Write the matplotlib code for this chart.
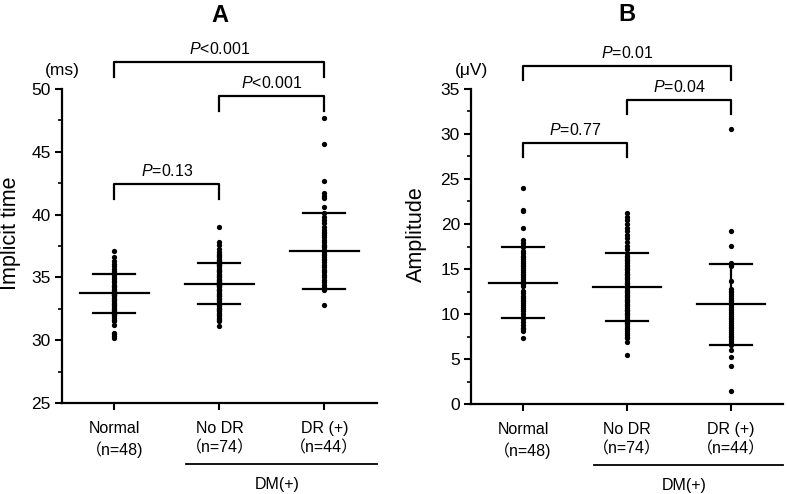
import numpy as np
import matplotlib
matplotlib.use("Agg")
import matplotlib.pyplot as plt
import matplotlib.transforms as mtrans

plt.rcParams['font.family'] = ['Liberation Sans', 'Noto Sans CJK JP', 'DejaVu Sans']
plt.rcParams['mathtext.fontset'] = 'custom'
plt.rcParams['mathtext.rm'] = 'Liberation Sans'
plt.rcParams['mathtext.it'] = 'Liberation Sans:italic'

groups = ["Normal\n（n=48)", "No DR\n（n=74）", "DR (+)\n（n=44）"]

# implicit time (ms)
it_normal = [37.1, 36.6, 36.3, 36.1, 35.9, 35.7, 35.5, 35.4, 35.2, 35.0,
             34.9, 34.7, 34.6, 34.4, 34.3, 34.2, 34.0, 33.9, 33.8, 33.7,
             33.6, 33.5, 33.4, 33.3, 33.2, 33.1, 33.0, 32.9, 32.8, 32.7,
             32.6, 32.5, 32.4, 32.3, 32.2, 32.1, 32.0, 31.9, 31.8, 31.6,
             31.5, 31.2, 30.6, 30.5, 30.3, 30.2, 33.6, 34.1]
it_nodr = [39.0, 37.8, 37.6, 37.3, 37.0, 36.9, 36.8, 36.7, 36.6, 36.5,
           36.4, 36.3, 36.2, 36.1, 36.0, 35.9, 35.8, 35.7, 35.6, 35.5,
           35.4, 35.3, 35.2, 35.1, 35.0, 34.9, 34.8, 34.8, 34.7, 34.6,
           34.6, 34.5, 34.5, 34.4, 34.4, 34.3, 34.3, 34.2, 34.1, 34.0,
           33.9, 33.8, 33.7, 33.6, 33.5, 33.4, 33.3, 33.2, 33.1, 33.0,
           32.9, 32.8, 32.7, 32.6, 32.5, 32.4, 32.3, 32.2, 32.1, 32.0,
           31.9, 31.8, 31.7, 31.6, 31.5, 35.0, 34.0, 33.5, 35.5, 34.5,
           33.0, 36.0, 32.5, 31.1]
it_dr = [47.7, 45.6, 42.7, 41.7, 41.5, 41.3, 40.6, 40.1, 39.6, 39.3,
         39.0, 38.8, 38.6, 38.4, 38.2, 38.0, 37.8, 37.6, 37.4, 37.2,
         37.0, 36.8, 36.6, 36.4, 36.2, 36.0, 35.8, 35.6, 35.4, 35.2,
         35.0, 34.8, 34.6, 34.4, 34.2, 34.1, 34.0, 37.5, 36.5, 35.5,
         38.5, 39.8, 36.9, 32.8]
it_mean = [33.75, 34.5, 37.1]
it_sd = [1.55, 1.65, 3.05]

# amplitude (uV)
amp_normal = [24.0, 21.6, 21.4, 19.6, 18.2, 17.9, 17.6, 17.4, 17.0, 16.8,
              16.5, 16.3, 16.1, 15.9, 15.7, 15.5, 15.3, 15.1, 14.9, 14.7,
              14.5, 14.3, 14.1, 13.9, 13.7, 13.5, 13.3, 13.1, 12.6, 12.3,
              12.0, 11.8, 11.6, 11.4, 11.2, 11.0, 10.8, 10.6, 10.3, 10.0,
              9.7, 9.4, 9.1, 8.8, 8.5, 8.3, 8.1, 7.3]
amp_nodr = [21.2, 20.8, 20.4, 20.0, 19.6, 19.2, 18.8, 18.4, 18.0, 17.6,
            17.2, 16.8, 16.5, 16.3, 16.1, 15.9, 15.7, 15.5, 15.3, 15.1,
            14.9, 14.7, 14.5, 14.3, 14.1, 13.9, 13.7, 13.5, 13.3, 13.1,
            12.9, 12.7, 12.5, 12.3, 12.1, 11.9, 11.7, 11.5, 11.3, 11.1,
            10.9, 10.7, 10.5, 10.3, 10.1, 9.9, 9.7, 9.5, 9.3, 9.1,
            8.9, 8.7, 8.5, 8.3, 8.1, 7.9, 7.7, 7.5, 7.3, 6.9,
            5.5, 13.0, 12.0, 14.0, 11.0, 15.0, 10.0, 16.0, 9.0, 12.6,
            13.4, 11.6, 14.4, 10.4]
amp_dr = [30.6, 19.2, 17.6, 15.7, 15.5, 15.3, 13.7, 12.6, 12.4, 12.2,
          12.0, 11.8, 11.6, 11.4, 11.2, 11.0, 10.8, 10.6, 10.4, 10.2,
          10.0, 9.8, 9.6, 9.4, 9.2, 9.0, 8.8, 8.6, 8.4, 8.2,
          8.0, 7.8, 7.6, 7.4, 7.2, 7.0, 6.8, 6.6, 6.0, 5.2,
          4.2, 1.5, 11.1, 12.8]
amp_mean = [13.5, 13.0, 11.1]
amp_sd = [3.9, 3.8, 4.5]

# brackets: (left group, right group, bar height, label)
it_brackets = [(0, 2, 52.15, "$\\mathit{P}$<0.001"),
               (1, 2, 49.45, "$\\mathit{P}$<0.001"),
               (0, 1, 42.45, "$\\mathit{P}$=0.13")]
amp_brackets = [(0, 2, 37.55, "$\\mathit{P}$=0.01"),
                (1, 2, 33.8, "$\\mathit{P}$=0.04"),
                (0, 1, 29.0, "$\\mathit{P}$=0.77")]


def draw_panel(ax, data, means, sds, brackets, ylim, step, leg, ylabel, unit, title, ylab_x):
    for i, vals in enumerate(data):
        ax.plot(np.full(len(vals), i), vals, 'o', color='black', ms=3.8, mec='none', clip_on=False)
        ax.plot([i - 0.33, i + 0.33], [means[i]] * 2, color='black', lw=1.6)
        for s in (-1, 1):
            ax.plot([i - 0.2, i + 0.2], [means[i] + s * sds[i]] * 2, color='black', lw=1.6)
        ax.plot([i, i], [means[i] - sds[i], means[i] + sds[i]], color='black', lw=1.6)
    for a, b, h, lab in brackets:
        ax.plot([a, a, b, b], [h - leg, h, h, h - leg], color='black', lw=1.6, clip_on=False)
        ax.text((a + b) / 2, h + leg * 0.35, lab, ha='center', va='bottom', fontsize=11.5)
    ax.set_xlim(-0.5, 2.5)
    ax.set_ylim(*ylim)
    ax.set_yticks(np.arange(ylim[0], ylim[1] + 0.1, step))
    ax.set_yticks(np.arange(ylim[0] + step / 2, ylim[1], step), minor=True)
    ax.set_xticks([0, 1, 2], labels=groups, linespacing=1.35)
    ax.tick_params(axis='both', which='major', labelsize=12.5, width=1.5, length=5, direction='out')
    ax.tick_params(axis='x', pad=8, labelsize=11.5)
    ax.tick_params(axis='y', which='minor', width=1.2, length=3)
    ax.tick_params(axis='y', pad=3)
    for sp in ('top', 'right'):
        ax.spines[sp].set_visible(False)
    for sp in ('left', 'bottom'):
        ax.spines[sp].set_linewidth(1.6)
    ax.set_ylabel(ylabel, fontsize=15.5)
    ax.yaxis.set_label_coords(ylab_x, 0.54)
    ax.text(0.0, 1.06, unit, transform=ax.transAxes, ha='center', va='center', fontsize=12.5)
    ax.text(0.5, 1.235, title, transform=ax.transAxes, ha='center', va='center',
            fontsize=17, fontweight='bold')
    tr = mtrans.blended_transform_factory(ax.transData, ax.transAxes)
    ax.plot([0.68, 2.5], [-0.194, -0.194], color='black', lw=1.3, transform=tr, clip_on=False)
    ax.text(1.55, -0.258, "DM(+)", transform=tr, ha='center', va='center', fontsize=11.5)


fig = plt.figure(figsize=(7.87, 4.94), dpi=100)
ax1 = fig.add_axes([0.0788, 0.184, 0.400, 0.636])
ax2 = fig.add_axes([0.5985, 0.182, 0.3964, 0.638])

draw_panel(ax1, [it_normal, it_nodr, it_dr], it_mean, it_sd, it_brackets,
           (25, 50), 5, 1.2, "Implicit time", "(ms)", "A", -0.13)
draw_panel(ax2, [amp_normal, amp_nodr, amp_dr], amp_mean, amp_sd, amp_brackets,
           (0, 35), 5, 1.6, "Amplitude", "(μV)", "B", -0.14)

fig.savefig("out.png", dpi=100)
